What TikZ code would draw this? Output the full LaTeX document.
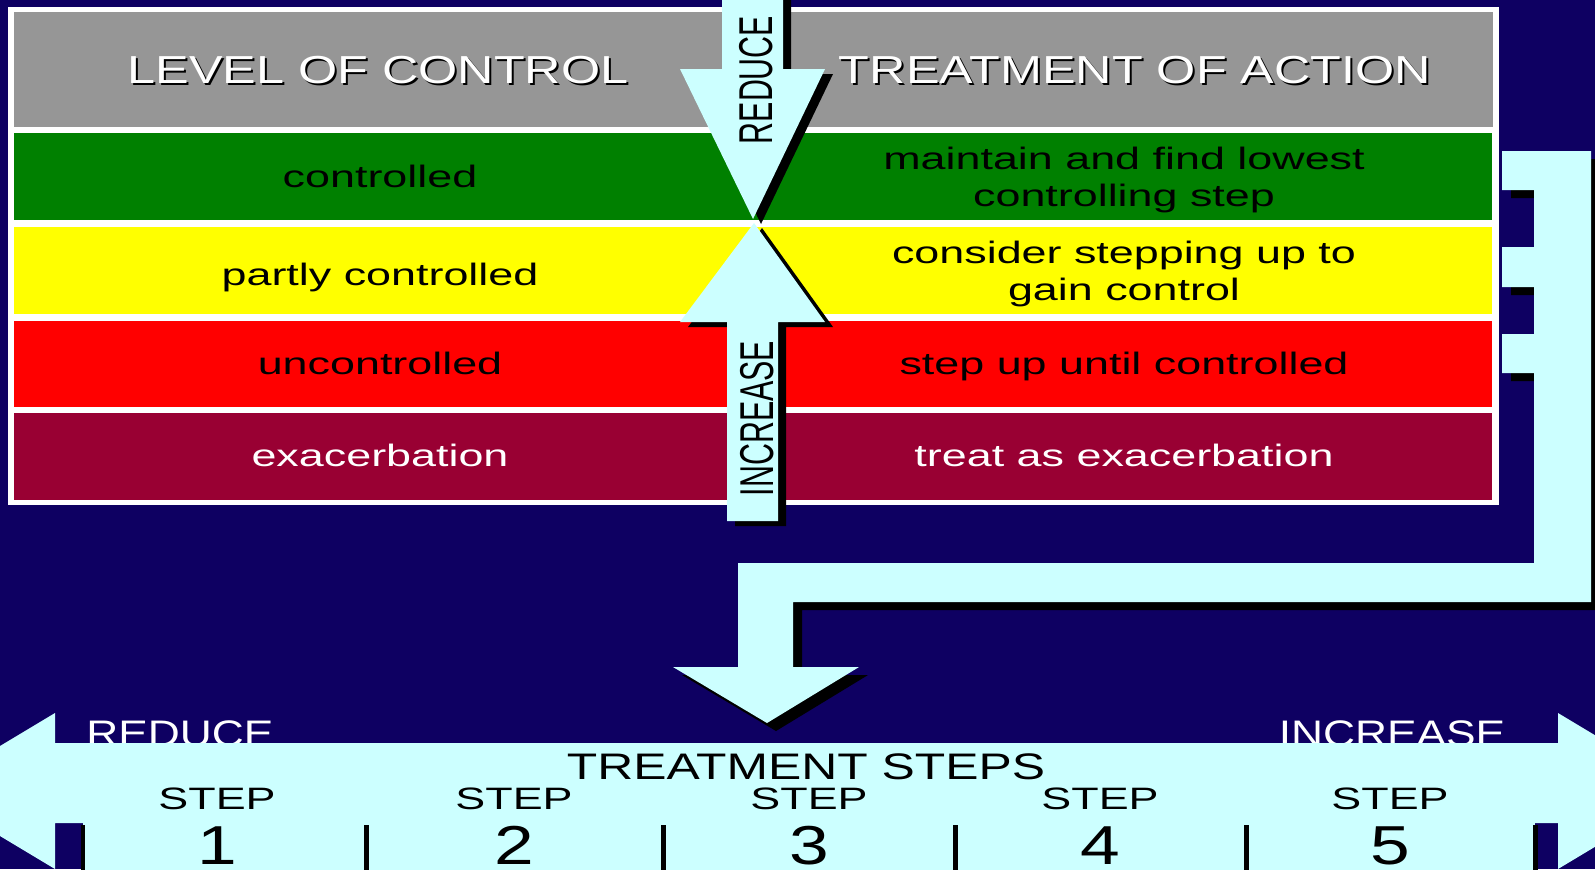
\documentclass[tikz,border=0pt]{standalone}
\usepackage{fontspec}
\setmainfont{Liberation Sans}
\newfontfamily\cellfont[FakeStretch=1.45]{Liberation Sans}
\newfontfamily\headfont[FakeStretch=1.29]{Liberation Sans}
\newfontfamily\narrowfont[FakeStretch=0.64]{Liberation Sans}
\newfontfamily\titlefont[FakeStretch=1.35]{Liberation Sans}
\newfontfamily\wordfont[FakeStretch=1.2]{Liberation Sans}
\newfontfamily\numfont[FakeStretch=1.3]{Liberation Sans}
\definecolor{bgblue}{RGB}{14,0,98}
\definecolor{paleblue}{RGB}{204,255,255}
\definecolor{hdrgray}{RGB}{150,150,150}
\definecolor{ctrlgreen}{RGB}{0,128,0}
\definecolor{partyellow}{RGB}{255,255,0}
\definecolor{unred}{RGB}{255,0,0}
\definecolor{exmaroon}{RGB}{153,0,51}
\tikzset{
  every node/.style={inner sep=0pt},
  cell/.style={font=\cellfont\fontsize{8.8}{10.6}\selectfont, align=center},
  hdr/.style={font=\headfont\fontsize{11.1}{13}\selectfont, text=white, anchor=base},
  hdrshade/.style={hdr, text=black},
  vlabel/.style={font=\narrowfont\fontsize{13.5}{15}\selectfont, rotate=90},
  bandword/.style={font=\wordfont\fontsize{10.5}{12}\selectfont, text=white, anchor=base},
  steplbl/.style={font=\cellfont\fontsize{8.8}{10}\selectfont, anchor=base},
  stepnum/.style={font=\numfont\fontsize{15.6}{18}\selectfont, anchor=base},
  hourglass/.style={fill=paleblue, preaction={fill=black, transform canvas={xshift=0.08cm, yshift=-0.05cm}}},
  bracket/.style={fill=paleblue, preaction={fill=black, transform canvas={xshift=0.09cm, yshift=-0.08cm}}},
  sepline/.style={line width=1.42pt}
}
\begin{document}
\begin{tikzpicture}[x=0.01cm,y=-0.01cm]
  \useasboundingbox (0,0) rectangle (1595,869);
  \clip (0,0) rectangle (1595,869);
  \fill[bgblue] (0,0) rectangle (1595,869);
  % table
  \fill[white] (8,7) rectangle (1499,505);
  \fill[hdrgray] (14,12) rectangle (1493,127);
  \fill[ctrlgreen] (14,133) rectangle (1492,220);
  \fill[partyellow] (14,227) rectangle (1492,314);
  \fill[unred] (14,321) rectangle (1492,407);
  \fill[exmaroon] (14,413) rectangle (1492,500);
  \node[hdrshade] (levelS) at (380,85) {LEVEL OF CONTROL};
  \node[hdr] (level) at (378,83) {LEVEL OF CONTROL};
  \node[hdrshade] (actionS) at (1137,85) {TREATMENT OF ACTION};
  \node[hdr] (action) at (1135,83) {TREATMENT OF ACTION};
  \node[cell, anchor=base] (ctrl) at (380,187) {controlled};
  \node[cell, anchor=base] (partly) at (380,285) {partly controlled};
  \node[cell, anchor=base] (unctrl) at (380,374) {uncontrolled};
  \node[cell, anchor=base, text=white] (exac) at (380,466) {exacerbation};
  \node[cell] (maintain) at (1124,180) {maintain and find lowest\\controlling step};
  \node[cell] (consider) at (1124,274) {consider stepping up to\\gain control};
  \node[cell, anchor=base] (stepup) at (1124,374) {step up until controlled};
  \node[cell, anchor=base, text=white] (treat) at (1124,466) {treat as exacerbation};
  % hourglass
  \fill[hourglass] (722,-5) -- (783,-5) -- (783,69) -- (825,69) -- (753,219) -- (680,69) -- (722,69) -- cycle;
  \fill[hourglass] (727,521) -- (778,521) -- (778,322) -- (825,322) -- (754,223) -- (680,322) -- (727,322) -- cycle;
  \node[vlabel] (reduce) at (756.5,80) {REDUCE};
  \node[vlabel] (increase) at (757,418.5) {INCREASE};
  % bracket to the steps
  \fill[bracket] (738,563) -- (1534,563) -- (1534,373) -- (1502,373) -- (1502,334) -- (1534,334)
    -- (1534,287) -- (1502,287) -- (1502,247) -- (1534,247) -- (1534,190) -- (1502,190)
    -- (1502,151) -- (1591,151) -- (1591,602) -- (793,602) -- (793,667) -- (859,667)
    -- (767,723) -- (673,667) -- (738,667) -- cycle;
  % steps band
  \node[bandword] (less) at (180,746) {REDUCE};
  \node[bandword] (more) at (1392,746) {INCREASE};
  \fill[paleblue] (-75,791) -- (55,713) -- (55,743) -- (1558,743) -- (1558,713) -- (1688,791)
    -- (1558,869) -- (1558,823) -- (55,823) -- (55,869) -- cycle;
  \fill[paleblue] (83,743) rectangle (1535,880);
  \node[font=\titlefont\fontsize{10.5}{12}\selectfont, anchor=base] (steps) at (806,779) {TREATMENT STEPS};
  \foreach \x in {83,366,663,955,1246,1535}
    \draw[sepline] (\x,825) -- (\x,880);
  \foreach \n/\x in {1/217,2/514,3/809,4/1100,5/1390} {
    \node[steplbl] (step\n) at (\x,809) {STEP};
    \node[stepnum] (num\n) at (\x,864) {\n};
  }
\end{tikzpicture}
\end{document}
